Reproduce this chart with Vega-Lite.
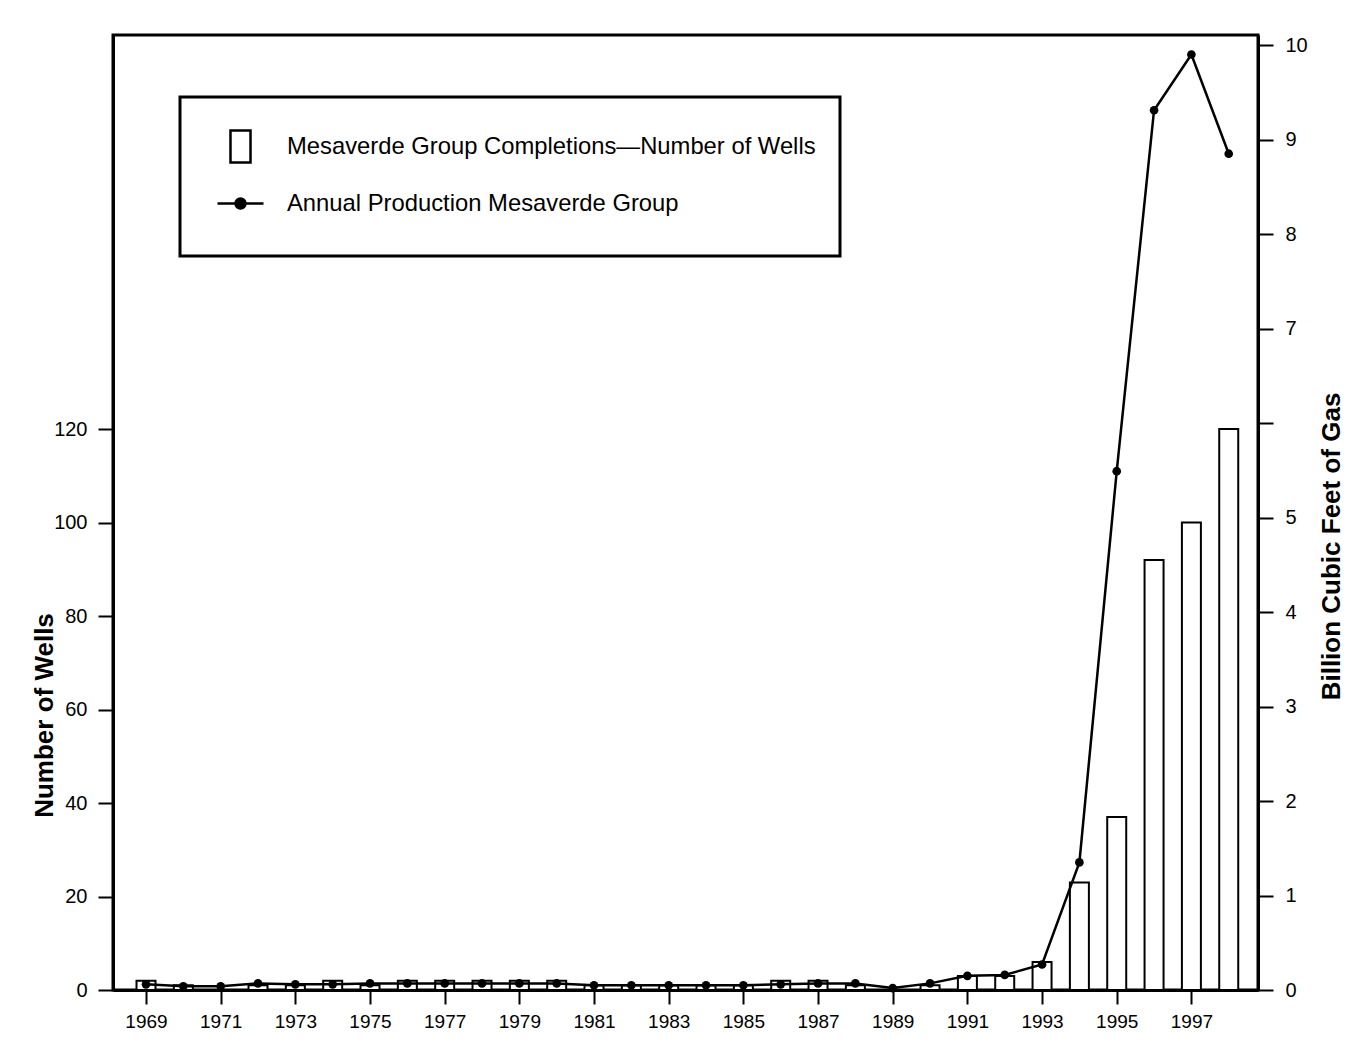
{
  "$schema": "https://vega.github.io/schema/vega-lite/v6.json",
  "width": 1145,
  "height": 955,
  "autosize": {"type": "none"},
  "padding": {"left": 113, "top": 35, "right": 91, "bottom": 55},
  "background": "white",
  "config": {
    "font": "Liberation Sans",
    "view": {"stroke": "black", "strokeWidth": 3},
    "axis": {
      "domainColor": "black", "domainWidth": 3, "tickColor": "black", "tickWidth": 2,
      "labelColor": "black", "titleColor": "black", "grid": false,
      "labelFont": "Liberation Sans", "titleFont": "Liberation Sans"
    },
    "legend": {
      "orient": "none", "legendX": 67, "legendY": 62, "title": null,
      "padding": 24, "strokeColor": "black", "fillColor": "white",
      "symbolSize": 2304, "symbolOffset": 11, "labelOffset": 21,
      "labelFontSize": 23.8, "labelLimit": 1000, "labelColor": "black",
      "rowPadding": 0, "symbolStrokeWidth": 2.5, "symbolType": "square"
    }
  },
  "data": {"values": [
    {"year": 1969, "wells": 2, "gas": 0.06},
    {"year": 1970, "wells": 1, "gas": 0.04},
    {"year": 1971, "wells": 0, "gas": 0.04},
    {"year": 1972, "wells": 1, "gas": 0.07},
    {"year": 1973, "wells": 1, "gas": 0.06},
    {"year": 1974, "wells": 2, "gas": 0.06},
    {"year": 1975, "wells": 1, "gas": 0.07},
    {"year": 1976, "wells": 2, "gas": 0.07},
    {"year": 1977, "wells": 2, "gas": 0.07},
    {"year": 1978, "wells": 2, "gas": 0.07},
    {"year": 1979, "wells": 2, "gas": 0.07},
    {"year": 1980, "wells": 2, "gas": 0.07},
    {"year": 1981, "wells": 1, "gas": 0.05},
    {"year": 1982, "wells": 1, "gas": 0.05},
    {"year": 1983, "wells": 1, "gas": 0.05},
    {"year": 1984, "wells": 1, "gas": 0.05},
    {"year": 1985, "wells": 1, "gas": 0.05},
    {"year": 1986, "wells": 2, "gas": 0.06},
    {"year": 1987, "wells": 2, "gas": 0.07},
    {"year": 1988, "wells": 1, "gas": 0.07},
    {"year": 1989, "wells": 0, "gas": 0.02},
    {"year": 1990, "wells": 1, "gas": 0.07},
    {"year": 1991, "wells": 3, "gas": 0.15},
    {"year": 1992, "wells": 3, "gas": 0.16},
    {"year": 1993, "wells": 6, "gas": 0.27},
    {"year": 1994, "wells": 23, "gas": 1.35},
    {"year": 1995, "wells": 37, "gas": 5.49},
    {"year": 1996, "wells": 92, "gas": 9.31},
    {"year": 1997, "wells": 100, "gas": 9.9},
    {"year": 1998, "wells": 120, "gas": 8.85}
  ]},
  "layer": [
    {
      "mark": {"type": "bar", "width": 19, "fill": "white", "strokeWidth": 2},
      "encoding": {
        "x": {
          "field": "year", "type": "quantitative",
          "scale": {"domain": [1968.25, 1998.65], "nice": false, "zero": false},
          "axis": {
            "title": null, "values": [1969,1971,1973,1975,1977,1979,1981,1983,1985,1987,1989,1991,1993,1995,1997],
            "format": "d", "tickSize": 14, "labelPadding": 8, "labelFontSize": 19, "labelFlush": false
          }
        },
        "y": {
          "field": "wells", "type": "quantitative",
          "scale": {"domain": [0, 204.3], "nice": false},
          "axis": {
            "title": "Number of Wells", "values": [0,20,40,60,80,100,120],
            "tickSize": 15, "labelPadding": 11, "labelFontSize": 20,
            "titleFontSize": 26, "titleFontWeight": "bold",
            "titleAngle": 270, "titleX": -69, "titleY": 680,
            "titleAlign": "center", "titleBaseline": "middle"
          }
        },
        "stroke": {
          "datum": "Mesaverde Group Completions—Number of Wells", "type": "nominal",
          "scale": {
            "domain": ["Mesaverde Group Completions—Number of Wells", "Annual Production Mesaverde Group"],
            "range": ["black", "black"]
          },
          "legend": {
            "encode": {
              "symbols": {"update": {
                "shape": {"signal": "datum.value == 'Annual Production Mesaverde Group' ? 'M0,-0.95M0,0.95M-0.958,0H0.958M-0.208,0A0.208,0.208,0,1,0,0.208,0A0.208,0.208,0,1,0,-0.208,0Z' : 'M0,-0.95M0,0.95M-0.417,-0.667H0.417V0.667H-0.417Z'"},
                "fill": {"signal": "datum.value == 'Annual Production Mesaverde Group' ? 'black' : 'white'"},
                "stroke": {"value": "black"},
                "opacity": {"value": 1}
              }},
              "legend": {"update": {"strokeWidth": {"value": 3}}}
            }
          }
        }
      }
    },
    {
      "layer": [
        {
          "mark": {"type": "line", "strokeWidth": 2.5},
          "encoding": {
            "x": {"field": "year", "type": "quantitative"},
            "y": {
              "field": "gas", "type": "quantitative",
              "scale": {"domain": [0, 10.106], "nice": false},
              "axis": {
                "orient": "right", "title": "Billion Cubic Feet of Gas",
                "values": [0,1,2,3,4,5,6,7,8,9,10], "format": "d",
                "labelExpr": "datum.value == 6 ? '' : datum.label",
                "tickSize": 15, "labelPadding": 12, "labelFontSize": 20,
                "titleFontSize": 26, "titleFontWeight": "bold",
                "titleAngle": 270, "titleX": 73, "titleY": 511,
                "titleAlign": "center", "titleBaseline": "middle"
              }
            },
            "stroke": {
              "datum": "Annual Production Mesaverde Group", "type": "nominal",
              "legend": {
                "encode": {
                  "symbols": {"update": {
                    "shape": {"signal": "datum.value == 'Annual Production Mesaverde Group' ? 'M0,-0.95M0,0.95M-0.958,0H0.958M-0.208,0A0.208,0.208,0,1,0,0.208,0A0.208,0.208,0,1,0,-0.208,0Z' : 'M0,-0.95M0,0.95M-0.417,-0.667H0.417V0.667H-0.417Z'"},
                    "fill": {"signal": "datum.value == 'Annual Production Mesaverde Group' ? 'black' : 'white'"},
                    "stroke": {"value": "black"},
                    "opacity": {"value": 1}
                  }},
                  "legend": {"update": {"strokeWidth": {"value": 3}}}
                }
              }
            }
          }
        },
        {
          "mark": {"type": "point", "filled": true, "color": "black", "size": 75, "opacity": 1},
          "encoding": {
            "x": {"field": "year", "type": "quantitative"},
            "y": {"field": "gas", "type": "quantitative"}
          }
        }
      ]
    }
  ],
  "resolve": {"scale": {"y": "independent"}}
}
